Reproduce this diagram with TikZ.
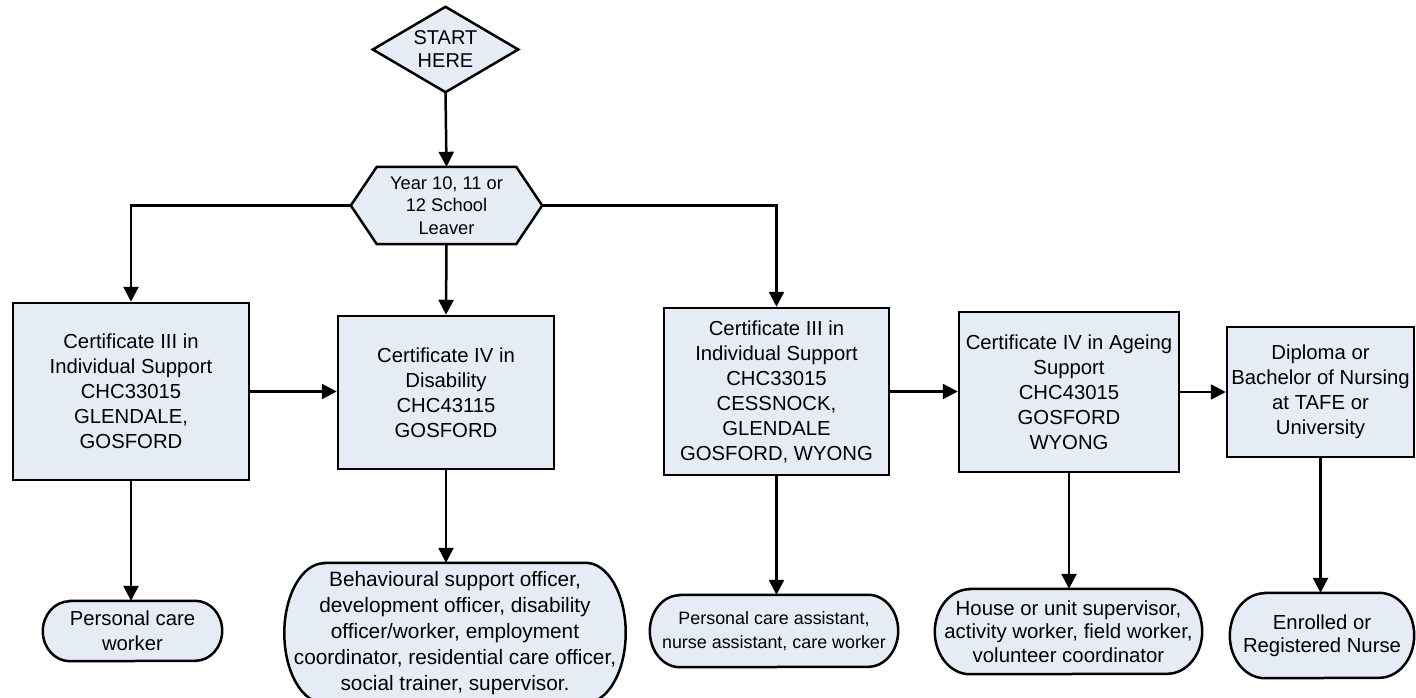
\documentclass[tikz,border=0pt]{standalone}
\usepackage{fontspec}
\setmainfont{Liberation Sans}
\usetikzlibrary{arrows.meta,backgrounds}
\definecolor{boxfill}{RGB}{230,236,246}
\newcommand\TermOutline[3]{%
  \path[shapeline] ([xshift=#2]#1.north west) -- ([xshift=-#2]#1.north east)
    arc[start angle=90,end angle=-90,x radius=#2,y radius=#3]
    -- ([xshift=#2]#1.south west)
    arc[start angle=270,end angle=90,x radius=#2,y radius=#3] -- cycle;}
\begin{document}
\begin{tikzpicture}[x=1pt,y=-1pt,
  arr/.style={line width=2.5pt, -{Triangle[length=15pt,width=15pt]}},
  box/.style={draw=black, line width=2.5pt, fill=boxfill, rectangle, inner sep=0pt, align=center,
    font=\fontsize{20.3}{25}\selectfont},
  lbl/.style={rectangle, inner sep=0pt, align=center},
  shapeline/.style={draw=black, line width=2.5pt, fill=boxfill, line join=miter}
]
\useasboundingbox (0,0) rectangle (1416,698);

% decision shapes
\node[lbl, font=\fontsize{20}{23}\selectfont, minimum width=145pt, minimum height=85pt] (start) at (445.5,49.5) {START\\HERE};
\node[lbl, font=\fontsize{18.3}{22.5}\selectfont, minimum width=191pt, minimum height=77pt] (hex) at (446.5,205.5) {Year 10, 11 or\\12 School\\Leaver};

% boxes
\node[box, minimum width=236pt, minimum height=177pt] (b1) at (131,391.5) {Certificate III in\\Individual Support\\CHC33015\\GLENDALE,\\GOSFORD};
\node[box, minimum width=216pt, minimum height=153pt] (b2) at (446,392.5) {Certificate IV in\\Disability\\CHC43115\\GOSFORD};
\node[box, minimum width=225pt, minimum height=167pt] (b3) at (776.5,391.5) {Certificate III in\\Individual Support\\CHC33015\\CESSNOCK,\\GLENDALE\\GOSFORD, WYONG};
\node[box, minimum width=220pt, minimum height=160pt] (b4) at (1069,392) {Certificate IV in Ageing\\Support\\CHC43015\\GOSFORD\\WYONG};
\node[box, minimum width=187pt, minimum height=130pt] (b5) at (1320.5,392) {Diploma or\\Bachelor of Nursing\\at TAFE or\\University};

% terminals
\node[lbl, font=\fontsize{20.3}{25}\selectfont, minimum width=179pt, minimum height=60pt] (t1) at (132.5,631) {Personal care\\worker};
\node[lbl, font=\fontsize{20.8}{26}\selectfont, minimum width=341pt, minimum height=140pt] (t2) at (455,633) {Behavioural support officer,\\development officer, disability\\officer/worker, employment\\coordinator, residential care officer,\\social trainer, supervisor.};
\node[lbl, font=\fontsize{17.9}{24}\selectfont, minimum width=248pt, minimum height=72pt] (t3) at (774,631) {Personal care assistant,\\nurse assistant, care worker};
\node[lbl, font=\fontsize{20.4}{23.5}\selectfont, minimum width=267pt, minimum height=85pt] (t4) at (1068.5,631.5) {House or unit supervisor,\\activity worker, field worker,\\volunteer coordinator};
\node[lbl, font=\fontsize{20.3}{23}\selectfont, minimum width=184pt, minimum height=85pt] (t5) at (1322,635.5) {Enrolled or\\Registered Nurse};

\begin{scope}[on background layer]
  \path[shapeline] (start.west) -- (start.north) -- (start.east) -- (start.south) -- cycle;
  \path[shapeline] (hex.west) -- ([xshift=26pt]hex.north west) -- ([xshift=-26pt]hex.north east)
    -- (hex.east) -- ([xshift=-26pt]hex.south east) -- ([xshift=26pt]hex.south west) -- cycle;
  \TermOutline{t1}{27pt}{30pt}
  \TermOutline{t2}{40pt}{70pt}
  \TermOutline{t3}{30pt}{36pt}
  \TermOutline{t4}{35pt}{42.5pt}
  \TermOutline{t5}{35pt}{42.5pt}
\end{scope}

% connectors
\draw[arr] (start.south) -- (hex.north);
\draw[arr] (hex.west) -| (b1.north);
\draw[arr] (hex.south) -- (b2.north);
\draw[arr] (hex.east) -| (b3.north);
\draw[arr] (b1.east) -- (b1.east -| b2.west);
\draw[arr] (b3.east) -- (b3.east -| b4.west);
\draw[arr] (b4.east) -- (b4.east -| b5.west);
\draw[arr] (b1.south) -- (b1.south |- t1.north);
\draw[arr] (b2.south) -- (b2.south |- t2.north);
\draw[arr] (b3.south) -- (b3.south |- t3.north);
\draw[arr] (b4.south) -- (b4.south |- t4.north);
\draw[arr] (b5.south) -- (b5.south |- t5.north);
\end{tikzpicture}
\end{document}
